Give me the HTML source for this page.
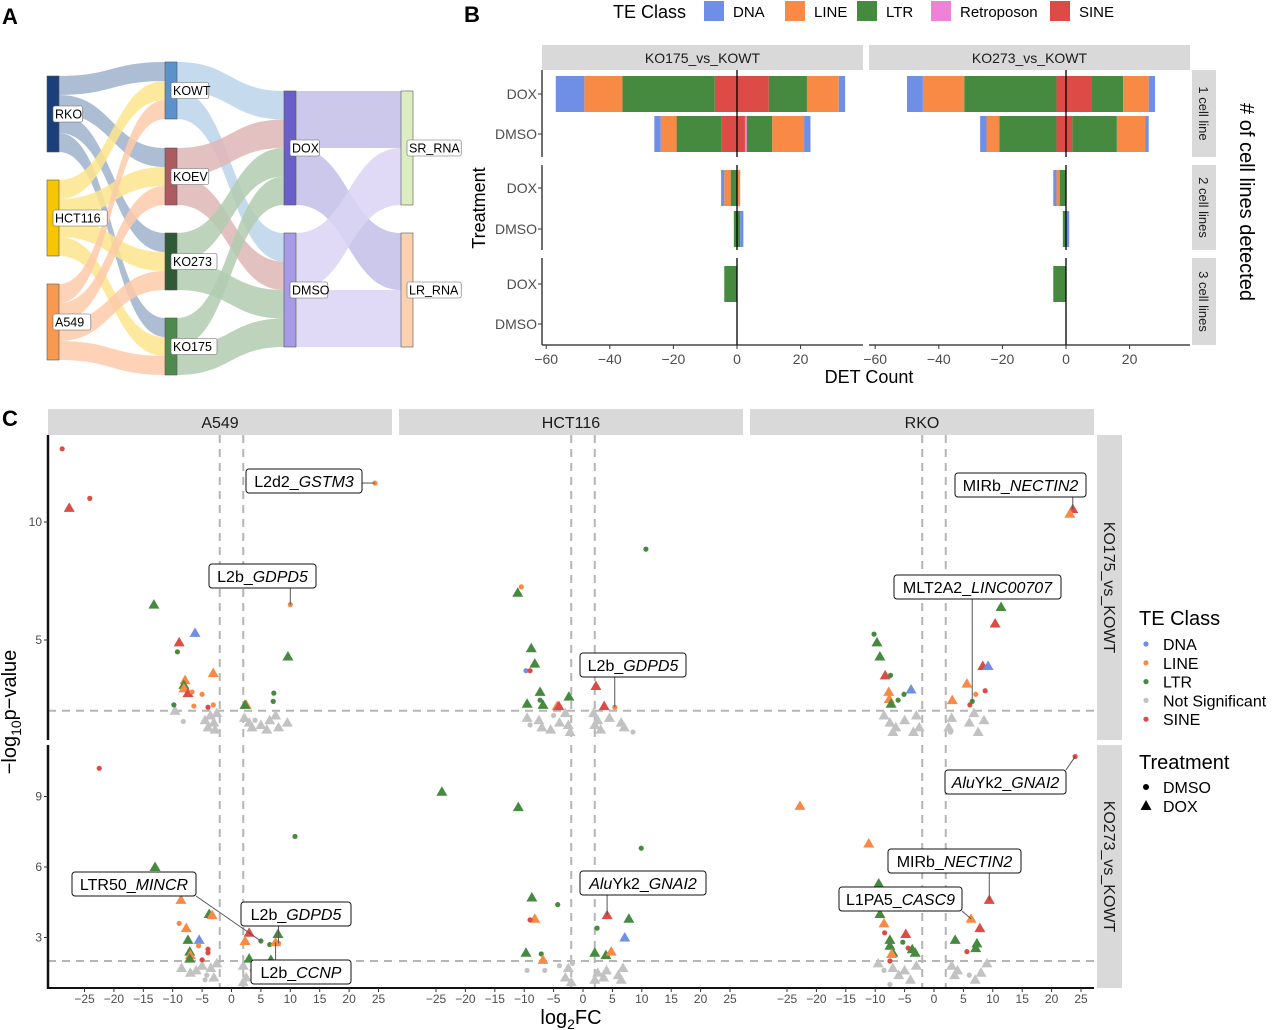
<!DOCTYPE html>
<html><head><meta charset="utf-8"><style>
body{margin:0;background:#fff}
svg{display:block;font-family:"Liberation Sans",sans-serif}
</style></head><body>
<svg id="fig" width="1280" height="1030" viewBox="0 0 1280 1030" xmlns="http://www.w3.org/2000/svg">
<text x="2" y="24" font-size="22" font-weight="bold">A</text>
<text x="464" y="22" font-size="22" font-weight="bold">B</text>
<text x="2" y="426" font-size="22" font-weight="bold">C</text>
<g id="sankey"></g>
<g id="barB"></g>
<g id="volc"></g>
</svg>
<script>
// ===== Panel A data =====
const sankeyNodes = ['RKO','HCT116','A549','KOWT','KOEV','KO273','KO175','DOX','DMSO','SR_RNA','LR_RNA'];
const sankeyCellToKO = [[0,3,1],[0,4,1],[0,5,1],[0,6,1],[1,3,1],[1,4,1],[1,5,1],[1,6,1],[2,3,1],[2,4,1],[2,5,1],[2,6,1]];
const sankeyKOToTrt = [[3,7,1.5],[3,8,1.5],[4,7,1.5],[4,8,1.5],[5,7,1.5],[5,8,1.5],[6,7,1.5],[6,8,1.5]];
const sankeyTrtToRNA = [[7,9,3],[7,10,3],[8,9,3],[8,10,3]];

// ===== Panel B data =====
const teClasses = ['DNA','LINE','LTR','Retroposon','SINE'];
const bComparisons = ['KO175_vs_KOWT','KO273_vs_KOWT'];
const bRowLabels = ['DOX','DMSO','DOX','DMSO','DOX','DMSO'];
const bStrips = ['1 cell line','2 cell lines','3 cell lines'];
const bTicks = [-60,-40,-20,0,20];
const ko175NegDNA=[9,2,1,0,0,0], ko175NegLINE=[12,5,2,0,0,0], ko175NegLTR=[29,14,2,1,4,0], ko175NegRetro=[0,0,0,0,0,0], ko175NegSINE=[7,5,0,0,0,0];
const ko175PosDNA=[2,2,0,1,0,0], ko175PosLINE=[10,10,1,0,0,0], ko175PosLTR=[12,8,0,1,0,0], ko175PosRetro=[0,0.6,0,0,0,0], ko175PosSINE=[10,2.5,0,0,0,0];
const ko273NegDNA=[5,2,1,0,0,0], ko273NegLINE=[13,4,1,0,0,0], ko273NegLTR=[29,18,2,1,4,0], ko273NegRetro=[0,0,0,0,0,0], ko273NegSINE=[3,3,0,0,0,0];
const ko273PosDNA=[2,1,0,1,0,0], ko273PosLINE=[8,9,0,0,0,0], ko273PosLTR=[10,14,0,0,0,0], ko273PosRetro=[0,0,0,0,0,0], ko273PosSINE=[8,2,0,0,0,0];

// ===== Panel C data =====
const cCols = ['A549','HCT116','RKO'];
const cRows = ['KO175_vs_KOWT','KO273_vs_KOWT'];
const cXTicks = [-25,-20,-15,-10,-5,0,5,10,15,20,25];
const cYTicksTop = [5,10];
const cYTicksBot = [3,6,9];
const ptsA549KO175 = [[-28.8,13.1,'SINE','d'],[-27.6,10.6,'SINE','t'],[-24.1,11.0,'SINE','d'],[24.4,11.65,'LINE','d'],[10,6.5,'LINE','d'],[-13.2,6.5,'LTR','t'],[-6.2,5.3,'DNA','t'],[-8.9,4.9,'SINE','t'],[-9.2,4.5,'LTR','d'],[9.6,4.3,'LTR','t'],[-3.1,3.6,'LINE','t'],[-7.9,3.3,'LINE','t'],[-8.1,3.1,'LTR','t'],[-8.1,2.95,'LINE','t'],[-7.4,2.75,'SINE','t'],[-5.0,2.7,'LINE','d'],[-6.7,2.8,'LINE','d'],[-9.8,2.25,'LTR','d'],[-6.4,2.2,'LINE','d'],[-4,2.15,'SINE','d'],[-3.1,2.25,'LINE','d'],[7.2,2.75,'LTR','d'],[7.1,2.4,'LTR','d'],[2.5,2.25,'LINE','t'],[2.3,2.25,'LTR','t']];
const grayA549KO175 = [[-9.6,2.0,'t'],[-8.2,1.55,'d'],[-4.5,1.6,'t'],[-3.6,1.8,'t'],[-3,1.5,'t'],[-2.5,1.9,'t'],[-4,1.3,'t'],[-2.8,1.2,'t'],[2.2,1.7,'t'],[3,1.5,'t'],[4,1.6,'d'],[5,1.4,'t'],[6.5,1.6,'t'],[7.5,1.8,'t'],[8,1.3,'t'],[9.5,1.5,'t'],[6,1.2,'t'],[3.5,1.3,'t']];
const ptsA549KO273 = [[-22.5,10.2,'SINE','d'],[10.8,7.3,'LTR','d'],[-13.0,6.0,'LTR','t'],[-8.6,4.6,'LINE','t'],[-3.8,4.0,'LTR','t'],[-3.3,3.95,'LINE','t'],[-8.9,3.6,'LINE','d'],[-7.7,3.4,'LINE','t'],[-7.4,2.9,'LTR','t'],[-5.5,2.9,'DNA','t'],[-5.6,2.65,'LINE','d'],[-4,2.5,'SINE','d'],[-4,2.35,'SINE','d'],[-7.1,2.4,'LTR','t'],[-7.0,2.25,'LINE','t'],[-7.1,2.1,'LTR','t'],[-5,2.05,'SINE','d'],[3.0,3.2,'SINE','t'],[2.3,2.85,'LINE','t'],[5.0,2.85,'LTR','d'],[6.5,2.7,'LTR','d'],[7.5,2.8,'LINE','t'],[8,2.75,'LINE','d'],[7.9,3.15,'LTR','t'],[3.0,2.1,'LTR','t'],[6.7,2.05,'LTR','t']];
const grayA549KO273 = [[-8.5,1.7,'t'],[-7,1.5,'t'],[-6,1.6,'t'],[-5,1.8,'t'],[-4.2,1.4,'d'],[-3.5,1.7,'t'],[-3,1.3,'t'],[-2.5,1.9,'t'],[-4.5,1.2,'d'],[2,1.8,'t'],[2.5,1.3,'t'],[3.5,1.6,'d'],[2,1.1,'t']];
const ptsHCTKO175 = [[10.7,8.85,'LTR','d'],[-10.5,7.25,'LINE','d'],[-11.1,7.0,'LTR','t'],[-8.8,4.65,'LTR','t'],[-8.2,4.0,'LTR','t'],[-9.7,3.7,'DNA','d'],[-9.0,3.7,'SINE','d'],[-7.3,2.8,'LTR','t'],[-9.5,2.3,'LTR','t'],[-6.8,2.25,'LTR','t'],[-7.3,2.45,'LTR','d'],[-4.4,2.2,'LINE','t'],[-4.1,2.2,'SINE','t'],[-2.4,2.6,'LTR','t'],[2.2,3.05,'SINE','t'],[3.6,2.2,'SINE','t'],[5.4,2.15,'LINE','d']];
const grayHCTKO175 = [[-9.5,1.7,'t'],[-9,1.4,'d'],[-7.5,1.6,'t'],[-7,1.3,'t'],[-5.5,1.2,'t'],[-4,1.5,'t'],[-3,1.9,'t'],[-2.5,1.4,'t'],[-2.2,1.1,'t'],[-5,1.8,'d'],[1.8,1.9,'t'],[2,1.4,'t'],[3,1.2,'t'],[4.5,1.7,'t'],[6.5,1.5,'t'],[7,1.3,'t'],[8.5,1.1,'d'],[2.5,1.6,'t']];
const ptsHCTKO273 = [[-24,9.2,'LTR','t'],[-11,8.55,'LTR','t'],[9.9,6.8,'LTR','d'],[-8.7,4.7,'LTR','t'],[-4.3,4.4,'LTR','d'],[-8.2,3.8,'LINE','t'],[-9.0,3.75,'SINE','d'],[4.1,3.95,'SINE','t'],[7.8,3.8,'LTR','t'],[2.4,3.4,'LTR','d'],[7.1,3.0,'DNA','t'],[-9.7,2.35,'LTR','t'],[-7.1,2.3,'LTR','d'],[-6.8,2.05,'LINE','t'],[2.0,2.35,'LTR','t'],[3.9,2.25,'LTR','t'],[4.8,2.4,'LINE','t']];
const grayHCTKO273 = [[-9.5,1.6,'d'],[-6.5,1.6,'d'],[-4,1.8,'d'],[-2.5,1.7,'t'],[-3,1.3,'t'],[-2,1.1,'t'],[-1.8,1.9,'d'],[2,1.2,'t'],[2.5,1.5,'t'],[3.5,1.3,'t'],[4,1.6,'t'],[6,1.4,'t'],[6.8,1.7,'t'],[6.5,1.2,'t']];
const ptsRKOKO175 = [[23.6,10.55,'SINE','t'],[23.1,10.35,'LINE','t'],[11.4,6.4,'LTR','t'],[10.4,5.7,'SINE','t'],[-10.2,5.25,'LTR','d'],[-9.7,4.9,'LTR','t'],[-9.2,4.3,'LTR','t'],[-8.3,3.5,'SINE','t'],[-7.4,3.5,'LTR','d'],[8.3,3.9,'SINE','t'],[9.2,3.9,'DNA','t'],[5.6,3.15,'LINE','t'],[8.7,2.85,'SINE','d'],[7.1,2.7,'LINE','d'],[-3.9,2.9,'DNA','t'],[-5.1,2.7,'LTR','d'],[-6.1,2.45,'LTR','d'],[-7.7,2.8,'LINE','t'],[-7.6,2.5,'LINE','t'],[-7.3,2.3,'LTR','t'],[3.1,2.45,'LINE','t'],[6.1,2.25,'SINE','d'],[6.5,2.4,'LTR','d']];
const grayRKOKO175 = [[-8.5,1.8,'t'],[-7.5,1.5,'t'],[-6.5,1.3,'t'],[-7,1.1,'t'],[-5,1.6,'t'],[-3,1.8,'t'],[-2.5,1.3,'t'],[-3.5,1.1,'t'],[2.5,1.3,'t'],[3,1.7,'t'],[2.8,1.1,'d'],[6,1.5,'t'],[6.8,1.9,'t'],[8.5,1.6,'t'],[7.5,1.1,'t']];
const ptsRKOKO273 = [[24,10.7,'SINE','d'],[-22.8,8.6,'LINE','t'],[-11.1,7.0,'LINE','t'],[-9.4,5.3,'LTR','t'],[-9.2,4.0,'LTR','t'],[-8.5,3.6,'LINE','t'],[9.4,4.6,'SINE','t'],[6.3,3.8,'LINE','t'],[7.8,3.4,'SINE','t'],[-4.8,3.15,'SINE','t'],[-5.3,2.8,'LTR','d'],[-8.4,3.2,'SINE','d'],[-7.5,2.9,'LTR','t'],[-7.5,2.65,'LTR','t'],[-7.0,2.35,'LTR','t'],[-7.2,2.3,'LINE','t'],[-4.4,2.55,'SINE','d'],[-3.7,2.5,'LTR','t'],[-3.2,2.35,'LTR','t'],[3.6,2.9,'LTR','t'],[7.3,2.75,'LTR','t'],[7.1,2.55,'LTR','t'],[5.6,2.4,'SINE','d'],[-7.5,2.0,'SINE','d']];
const grayRKOKO273 = [[-9.5,1.9,'t'],[-8.5,1.6,'d'],[-7,1.7,'t'],[-6,1.4,'t'],[-5,1.6,'t'],[-4,1.2,'t'],[-3,1.8,'t'],[-7.5,1.0,'d'],[3,1.8,'t'],[3.5,1.4,'t'],[4,1.6,'t'],[6,1.4,'d'],[7,1.2,'t'],[8,1.5,'t'],[9,1.9,'t']];

const NS='http://www.w3.org/2000/svg';
function mk(parent,tag,attrs,text){const e=document.createElementNS(NS,tag);for(const k in attrs)e.setAttribute(k,attrs[k]);if(text!==undefined)e.textContent=text;parent.appendChild(e);return e;}
const classColor={DNA:'#6f8fe6',LINE:'#f98a45',LTR:'#468a40',Retroposon:'#ee82d6',SINE:'#dd4b46','Not Significant':'#c2c2c2'};

// ===== Panel A =====
(function(){
const g=document.getElementById('sankey');
const nodeX=[47,47,47,165,165,165,165,284,284,401,401];
const nodeY=[76,180,284,62,148,233,318,91,233,91,233];
const nodeCol=['#1b3f78','#f7c600','#f79a50','#5b92cc','#ad5b60','#2f5a35','#4e8a4e','#6a5fc9','#a79ae6','#dcedc2','#fcd1b0'];
const flowCol={0:'#9fb1cd',1:'#fde58c',2:'#fdcaa9',3:'#bcd4ea',4:'#dfb6b6',5:'#b2cbb0',6:'#b2cbb0',7:'#c2bee7',8:'#dad4f4'};
const U=19,W=12;
const outOff=new Array(11).fill(0),inOff=new Array(11).fill(0);
const groups=[sankeyCellToKO,sankeyKOToTrt,sankeyTrtToRNA];
groups.forEach(fl=>{
 fl.forEach(f=>{
  const [s,t,v]=f;const h=v*U;
  const x0=nodeX[s]+W,x1=nodeX[t],xm=(x0+x1)/2;
  const y0=nodeY[s]+outOff[s],y1=nodeY[t]+inOff[t];
  outOff[s]+=h;inOff[t]+=h;
  const p=mk(g,'path',{d:`M${x0},${y0}C${xm},${y0} ${xm},${y1} ${x1},${y1}L${x1},${y1+h}C${xm},${y1+h} ${xm},${y0+h} ${x0},${y0+h}Z`,fill:flowCol[s],'fill-opacity':0.85});
  
  
 });
});
sankeyNodes.forEach((n,i)=>{
 const h=(i<3?4:i<7?3:6)*U;
 const r=mk(g,'rect',{x:nodeX[i],y:nodeY[i],width:W,height:h,fill:nodeCol[i],stroke:'#555','stroke-width':0.6});
 
 
 const tw=n.length*8.2+5, cy=nodeY[i]+h/2;
 const lb=mk(g,'rect',{x:nodeX[i]+6,y:cy-8,width:tw,height:16,rx:2,fill:'#fff',stroke:'#666','stroke-width':0.6});
 
 
 const t=mk(g,'text',{x:nodeX[i]+8,y:cy+4.5,'font-size':12.5},n);
 
 
});
})();

// ===== Panel B =====
(function(){
const g=document.getElementById('barB');
const lt=mk(g,'text',{x:613,y:18,'font-size':18},'TE Class');

const lx=[704,785,857,931,1050];
teClasses.forEach((c,i)=>{
 const r=mk(g,'rect',{x:lx[i],y:1,width:20,height:20,fill:classColor[c]});
 
 const t=mk(g,'text',{x:lx[i]+29,y:17,'font-size':15},c);
 
});
const px0=[542,869],px1=[863,1190],zero=[737,1066],k=3.18;
const rowY=[94,134,188,229,284,324];
const bands=[[70,157],[165,250],[258,345]];
const neg=[[ko175NegSINE,ko175NegRetro,ko175NegLTR,ko175NegLINE,ko175NegDNA],[ko273NegSINE,ko273NegRetro,ko273NegLTR,ko273NegLINE,ko273NegDNA]];
const pos=[[ko175PosSINE,ko175PosRetro,ko175PosLTR,ko175PosLINE,ko175PosDNA],[ko273PosSINE,ko273PosRetro,ko273PosLTR,ko273PosLINE,ko273PosDNA]];
const order=['SINE','Retroposon','LTR','LINE','DNA'];
const xB=(p,v)=>zero[p]+v*k;
for(let p=0;p<2;p++){
 const s=mk(g,'rect',{x:px0[p],y:45,width:px1[p]-px0[p],height:25,fill:'#d9d9d9'});
 
 const st=mk(g,'text',{x:(px0[p]+px1[p])/2,y:63,'font-size':14,'text-anchor':'middle',fill:'#1a1a1a'},bComparisons[p]);
 
 for(let r=0;r<6;r++){
  let acc=0;
  neg[p].forEach((arr,ci)=>{const v=arr[r];if(v>0){const b=mk(g,'rect',{x:xB(p,-(acc+v)),y:rowY[r]-18,width:v*k,height:36,fill:classColor[order[ci]]});
   }acc+=v;});
  acc=0;
  pos[p].forEach((arr,ci)=>{const v=arr[r];if(v>0){const b=mk(g,'rect',{x:xB(p,acc),y:rowY[r]-18,width:v*k,height:36,fill:classColor[order[ci]]});
   }acc+=v;});
 }
 bands.forEach(bd=>{
  const z=mk(g,'line',{x1:zero[p],x2:zero[p],y1:bd[0],y2:bd[1],stroke:'#000','stroke-width':1.3});
  
  if(p===0){const a=mk(g,'line',{x1:px0[0],x2:px0[0],y1:bd[0],y2:bd[1],stroke:'#222','stroke-width':1.3});
   }
 });
 const xa=mk(g,'line',{x1:px0[p],x2:px1[p],y1:345,y2:345,stroke:'#222','stroke-width':1.3});
 
 bTicks.forEach(t=>{
  const tk=mk(g,'line',{x1:xB(p,t),x2:xB(p,t),y1:345,y2:349,stroke:'#333'});
  
  const tl=mk(g,'text',{x:xB(p,t),y:364,'font-size':14,'text-anchor':'middle',fill:'#4d4d4d'},t<0?'\u2212'+(-t):String(t));
  
 });
}
bRowLabels.forEach((l,r)=>{
 const t=mk(g,'text',{x:537,y:rowY[r]+5,'font-size':14,'text-anchor':'end',fill:'#4d4d4d'},l);
 
 const tk=mk(g,'line',{x1:538,x2:542,y1:rowY[r],y2:rowY[r],stroke:'#333'});
 
});
bStrips.forEach((s,i)=>{
 const bd=bands[i];
 const r=mk(g,'rect',{x:1192,y:bd[0],width:24,height:bd[1]-bd[0],fill:'#d9d9d9'});
 
 const cy=(bd[0]+bd[1])/2;
 const t=mk(g,'text',{x:1199,y:cy,'font-size':13,'text-anchor':'middle',transform:`rotate(90 1199 ${cy})`,fill:'#1a1a1a'},s);
 
});
const yt=mk(g,'text',{x:485,y:208,'font-size':18,'text-anchor':'middle',transform:'rotate(-90 485 208)'},'Treatment');

const xt=mk(g,'text',{x:869,y:383,'font-size':18,'text-anchor':'middle'},'DET Count');

const rt=mk(g,'text',{x:1240,y:202,'font-size':20,'text-anchor':'middle',transform:'rotate(90 1240 202)'},'# of cell lines detected');

})();

// ===== Panel C =====
(function(){
const g=document.getElementById('volc');
const colX0=[48,399,750],colW=344,zeroX=[231.5,583,934],kx=5.88;
const rowTop=[435,745],rowBot=[740,988],zeroY=[758,1008],ky=[23.6,23.5];
const xs=(c,v)=>zeroX[c]+v*kx, ys=(r,v)=>zeroY[r]-v*ky[r];
const panels=[[ptsA549KO175,grayA549KO175],[ptsHCTKO175,grayHCTKO175],[ptsRKOKO175,grayRKOKO175],[ptsA549KO273,grayA549KO273],[ptsHCTKO273,grayHCTKO273],[ptsRKOKO273,grayRKOKO273]];
const clipDefs=mk(g,'defs',{});
cCols.forEach((c,i)=>{
 const s=mk(g,'rect',{x:colX0[i],y:409,width:colW,height:26,fill:'#d9d9d9'});
 
 const t=mk(g,'text',{x:colX0[i]+colW/2,y:428,'font-size':16,'text-anchor':'middle',fill:'#1a1a1a'},c);
 
});
cRows.forEach((r,i)=>{
 const s=mk(g,'rect',{x:1097,y:rowTop[i],width:25,height:rowBot[i]-rowTop[i],fill:'#d9d9d9'});
 
 const cy=(rowTop[i]+rowBot[i])/2;
 const t=mk(g,'text',{x:1104,y:cy,'font-size':16,'text-anchor':'middle',transform:`rotate(90 1104 ${cy})`,fill:'#1a1a1a'},r);
 
});
function marker(parent,x,y,col,sh){
 let e;
 if(sh==='t'){e=mk(parent,'path',{d:`M${x},${y-5.5}L${x+5.5},${y+4}L${x-5.5},${y+4}Z`,fill:col});}
 else{e=mk(parent,'circle',{cx:x,cy:y,r:2.6,fill:col});}
 return e;
}
for(let r=0;r<2;r++)for(let c=0;c<3;c++){
 const [pts,gray]=panels[r*3+c];
 const cp=mk(clipDefs,'clipPath',{id:'cp'+r+c});
 mk(cp,'rect',{x:colX0[c],y:rowTop[r],width:colW,height:rowBot[r]-rowTop[r]});
 const pg=mk(g,'g',{'clip-path':`url(#cp${r}${c})`});
 
 
 [-2,2].forEach(v=>{const l=mk(pg,'line',{x1:xs(c,v),x2:xs(c,v),y1:rowTop[r],y2:rowBot[r],stroke:'#b5b5b5','stroke-width':2,'stroke-dasharray':'8,6'});
  });
 const h=mk(pg,'line',{x1:colX0[c],x2:colX0[c]+colW,y1:ys(r,2),y2:ys(r,2),stroke:'#b5b5b5','stroke-width':2,'stroke-dasharray':'8,6'});
 
 gray.forEach(p=>{const m=marker(pg,xs(c,p[0]),ys(r,p[1]),classColor['Not Significant'],p[2]);
  });
 pts.forEach(p=>{const m=marker(pg,xs(c,p[0]),ys(r,p[1]),classColor[p[2]],p[3]);
  });
 const xa=mk(g,'line',{x1:colX0[c],x2:colX0[c]+colW+(c<2?7:0),y1:988,y2:988,stroke:'#111','stroke-width':2});
 if(r===1){
  cXTicks.forEach(t=>{const tk=mk(g,'line',{x1:xs(c,t),x2:xs(c,t),y1:988,y2:992,stroke:'#333'});
   
   const tl=mk(g,'text',{x:xs(c,t),y:1003,'font-size':12,'text-anchor':'middle',fill:'#4d4d4d'},t<0?'\u2212'+(-t):String(t));
   });
 } else xa.remove();
}
[0,1].forEach(r=>{
 const a=mk(g,'line',{x1:48,x2:48,y1:rowTop[r],y2:rowBot[r]+(r===1?1:0),stroke:'#111','stroke-width':2.5});
 
 (r===0?cYTicksTop:cYTicksBot).forEach(t=>{
  const tk=mk(g,'line',{x1:44,x2:48,y1:ys(r,t),y2:ys(r,t),stroke:'#333'});
  
  const tl=mk(g,'text',{x:42,y:ys(r,t)+4,'font-size':12,'text-anchor':'end',fill:'#4d4d4d'},String(t));
  
 });
});
const ann=[[0,0,'L2d2_','GSTM3',246,469,116,24.4,11.65],[0,0,'L2b_','GDPD5',209,564,107,10,6.5],
[0,1,'LTR50_','MINCR',72,872,124,5.0,2.85],[0,1,'L2b_','GDPD5',241,902,110,8,2.75],[0,1,'L2b_','CCNP',251,960,100,7.5,2.8],
[1,0,'L2b_','GDPD5',580,653,106,5.4,2.15],[1,1,'','AluYk2_GNAI2',580,871,126,4.1,3.95],
[2,0,'MIRb_','NECTIN2',955,473,131,23.6,10.55],[2,0,'MLT2A2_','LINC00707',894,575,167,6.5,2.4],
[2,1,'','AluYk2_GNAI2',945,770,121,24,10.7],[2,1,'MIRb_','NECTIN2',888,849,133,9.4,4.6],[2,1,'L1PA5_','CASC9',839,887,123,6.3,3.8]];
ann.forEach(a=>{
 const [c,r,t1,t2,bx,by,bw,vx,vy]=a;
 const px=xs(c,vx),py=ys(r,vy);
 const cx=Math.max(bx,Math.min(bx+bw,px)),cy=Math.max(by,Math.min(by+24,py));
 const ln=mk(g,'line',{x1:cx,y1:cy,x2:px,y2:py,stroke:'#555','stroke-width':1});
 
 const b=mk(g,'rect',{x:bx,y:by,width:bw,height:24,rx:3,fill:'#fff',stroke:'#111','stroke-width':1});
 
 const tx=mk(g,'text',{x:bx+bw/2,y:by+18,'font-size':16,'text-anchor':'middle'});
 
 if(t2==='AluYk2_GNAI2'){mk(tx,'tspan',{'font-style':'italic'},'Alu');mk(tx,'tspan',{},'Yk2_');mk(tx,'tspan',{'font-style':'italic'},'GNAI2');}
 else{mk(tx,'tspan',{},t1);mk(tx,'tspan',{'font-style':'italic'},t2);}
});
const yt=mk(g,'text',{x:16,y:712,'font-size':20,'text-anchor':'middle',transform:'rotate(-90 16 712)'});

mk(yt,'tspan',{},'\u2212log');mk(yt,'tspan',{'font-size':14,dy:5},'10');mk(yt,'tspan',{dy:-5},'p\u2212value');
const xt=mk(g,'text',{x:571,y:1024,'font-size':20,'text-anchor':'middle'});

mk(xt,'tspan',{},'log');mk(xt,'tspan',{'font-size':14,dy:5},'2');mk(xt,'tspan',{dy:-5},'FC');
const l1=mk(g,'text',{x:1139,y:625,'font-size':20},'TE Class');

const legC=['DNA','LINE','LTR','Not Significant','SINE'];
legC.forEach((c,i)=>{const y=644+i*18.8;
 const d=mk(g,'circle',{cx:1146,cy:y,r:2.6,fill:classColor[c]});
 
 const t=mk(g,'text',{x:1163,y:y+6,'font-size':16},c);
 });
const l2=mk(g,'text',{x:1139,y:769,'font-size':20},'Treatment');

const d1=mk(g,'circle',{cx:1146,cy:787,r:3,fill:'#000'});

const t1=mk(g,'text',{x:1163,y:793,'font-size':16},'DMSO');

const d2=mk(g,'path',{d:'M1146,800L1151.5,810L1140.5,810Z',fill:'#000'});

const t2=mk(g,'text',{x:1163,y:812,'font-size':16},'DOX');

})();
</script>
</body></html>
